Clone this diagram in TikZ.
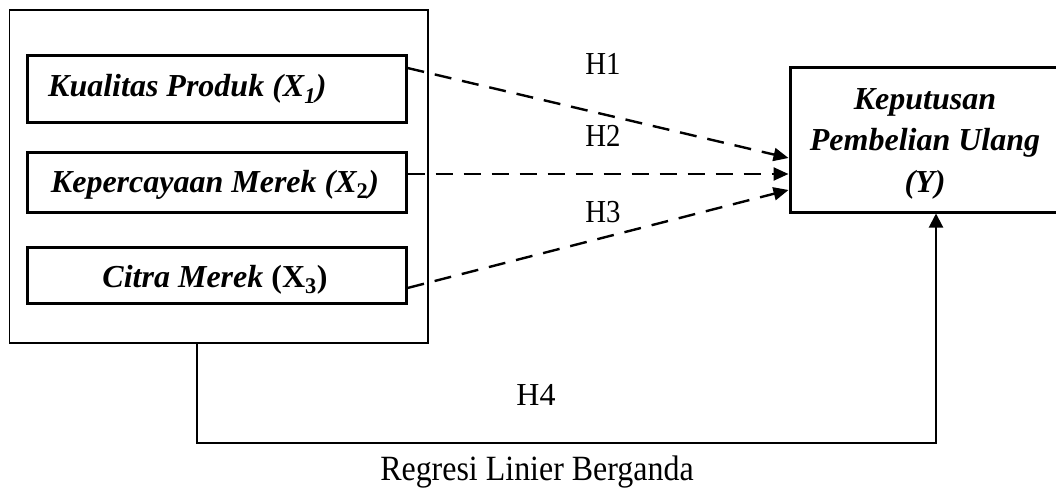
\documentclass[tikz,border=0pt]{standalone}
\usepackage{fontspec}
\setmainfont{Liberation Serif}
\newfontfamily\narrowserif[FakeStretch=0.9]{Liberation Serif}
\usetikzlibrary{arrows.meta}
\begin{document}
\begin{tikzpicture}[x=1pt,y=-1pt,
  varbox/.style={draw, line width=3pt, inner sep=0pt},
  bitext/.style={font=\fontsize{32}{38}\selectfont\bfseries\itshape, inner sep=0pt, anchor=base},
  hlabel/.style={font=\narrowserif\fontsize{32}{38}\selectfont, inner sep=0pt, anchor=base},
  hypo/.style={line width=2.4pt, dash pattern=on 17pt off 11pt,
    -{Triangle[length=15pt,width=13pt]}},
  link/.style={line width=2pt, -{Triangle[length=14pt,width=14pt]}}]
\useasboundingbox (0,0) rectangle (1056,489);
\fill[white] (0,0) rectangle (1056,489);

% group of independent variables
\node[draw, line width=1.5pt, minimum width=418.5pt, minimum height=333pt, inner sep=0pt]
  (group) at (218.75,176.5) {};
\node[varbox, minimum width=379pt, minimum height=67pt] (x1) at (216.5,89.5) {};
\node[varbox, minimum width=379pt, minimum height=59pt] (x2) at (216.5,182.5) {};
\node[varbox, minimum width=379pt, minimum height=56pt] (x3) at (216.5,275) {};
\node[bitext, anchor=base west] (t1) at (48,97) {Kualitas Produk (X\textsubscript{1})};
\node[bitext] (t2) at (215,192) {Kepercayaan Merek (X\textsubscript{\upshape 2})};
\node[bitext] (t3) at (215,287) {Citra Merek {\upshape(X\textsubscript{3})}};

% dependent variable
\node[varbox, minimum width=270pt, minimum height=144pt] (ybox) at (925,140) {};
\node[bitext] (y1) at (925,110) {Keputusan};
\node[bitext] (y2) at (925,151) {Pembelian Ulang};
\node[bitext] (y3) at (925,192) {(Y)};

% partial hypotheses
\draw[hypo] ([yshift=21.5pt]x1.east) -- ([yshift=-18pt]ybox.west);
\draw[hypo] ([yshift=8.5pt]x2.east) -- ([yshift=-34pt]ybox.west);
\draw[hypo] ([yshift=-13pt]x3.east) -- ([yshift=-50pt]ybox.west);
\node[hlabel] (h1) at (603,75) {H1};
\node[hlabel] (h2) at (603,147) {H2};
\node[hlabel] (h3) at (603,222) {H3};

% simultaneous hypothesis
\draw[link] ([xshift=-21.75pt]group.south) -- ++(0,99) -| ([xshift=11pt]ybox.south);
\node[hlabel, font=\fontsize{32}{38}\selectfont] (h4) at (536,405) {H4};
\node[hlabel, font=\narrowserif\fontsize{35.5}{42}\selectfont] (reg) at (537,480) {Regresi Linier Berganda};
\end{tikzpicture}
\end{document}
